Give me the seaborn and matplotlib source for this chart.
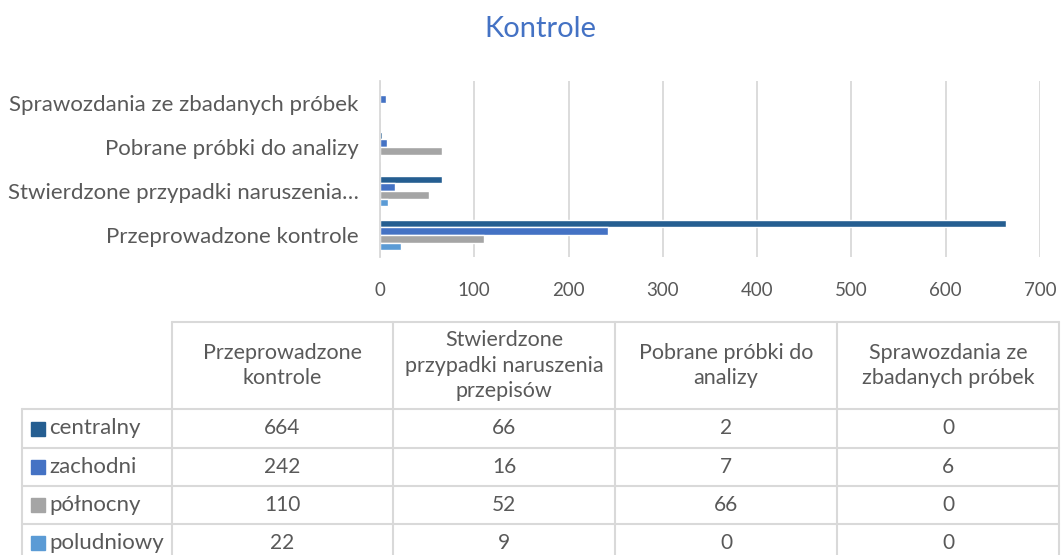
import matplotlib
matplotlib.use("Agg")
import matplotlib.pyplot as plt
import pandas as pd
import seaborn as sns

axis_labels = ["Przeprowadzone kontrole",
               "Stwierdzone przypadki naruszenia…",
               "Pobrane próbki do analizy",
               "Sprawozdania ze zbadanych próbek"]
header_labels = ["Przeprowadzone\nkontrole",
                 "Stwierdzone\nprzypadki naruszenia\nprzepisów",
                 "Pobrane próbki do\nanalizy",
                 "Sprawozdania ze\nzbadanych próbek"]
regions = ["centralny", "zachodni", "północny", "poludniowy"]
centralny = [664, 66, 2, 0]
zachodni = [242, 16, 7, 6]
polnocny = [110, 52, 66, 0]
poludniowy = [22, 9, 0, 0]
colors = ["#255E91", "#4472C4", "#A5A5A5", "#5B9BD5"]

series = [centralny, zachodni, polnocny, poludniowy]
rows = []
for reg, vals in zip(regions, series):
    for cat, v in zip(axis_labels, vals):
        rows.append({"kategoria": cat, "region": reg, "wartosc": v})
df = pd.DataFrame(rows)

sns.set_style("white")
plt.rcParams["font.family"] = ["Lato", "DejaVu Sans"]
text_col = "#595959"
grid_col = "#D9D9D9"

W, H = 1062, 555
fig = plt.figure(figsize=(W / 100, H / 100), dpi=100)

# table layer, pixel coordinates
tax = fig.add_axes([0, 0, 1, 1])
tax.set_xlim(0, W)
tax.set_ylim(H, 0)
tax.axis("off")

ax = fig.add_axes([380 / W, 1 - 257 / H, 660 / W, 176 / H])
sns.barplot(data=df, y="kategoria", x="wartosc", hue="region",
            order=axis_labels[::-1], hue_order=regions, palette=colors,
            orient="h", width=0.69, saturation=1, ax=ax, legend=False)
ax.set_xlim(0, 700)
ax.set_xticks(range(0, 701, 100))
ax.grid(axis="x", color=grid_col, linewidth=1.3)
ax.set_axisbelow(True)
for s in ["top", "right", "bottom"]:
    ax.spines[s].set_visible(False)
ax.spines["left"].set_color(grid_col)
ax.spines["left"].set_linewidth(1.3)
ax.set_xlabel("")
ax.set_ylabel("")
ax.tick_params(axis="x", length=0, pad=18, labelsize=13.5, labelcolor=text_col)
ax.tick_params(axis="y", length=0, pad=15.5, labelsize=16, labelcolor=text_col)

fig.text(540 / W, 1 - 29 / H, "Kontrole", ha="center", va="center",
         fontsize=21, color="#4472C4")

# data table
xs = [22, 171.5, 393, 615, 837, 1059]
ys = [322, 409, 448, 486, 524, 562]
lw = 1.5
tax.plot([xs[1], xs[-1]], [ys[0], ys[0]], color=grid_col, lw=lw)
for y in ys[1:]:
    tax.plot([xs[0], xs[-1]], [y, y], color=grid_col, lw=lw)
tax.plot([xs[0], xs[0]], [ys[1], ys[-1]], color=grid_col, lw=lw)
for x in xs[1:]:
    tax.plot([x, x], [ys[0], ys[-1]], color=grid_col, lw=lw)

for j, lab in enumerate(header_labels):
    tax.text((xs[j + 1] + xs[j + 2]) / 2, (ys[0] + ys[1]) / 2, lab,
             ha="center", va="center", fontsize=15.5, color=text_col,
             linespacing=1.32)

for i, (reg, vals, c) in enumerate(zip(regions, series, colors)):
    yc = (ys[i + 1] + ys[i + 2]) / 2
    tax.add_patch(plt.Rectangle((31, yc - 7), 14, 14, color=c))
    tax.text(49, yc, reg, ha="left", va="center", fontsize=16, color=text_col)
    for j, v in enumerate(vals):
        tax.text((xs[j + 1] + xs[j + 2]) / 2, yc, str(v), ha="center",
                 va="center", fontsize=15, color=text_col)

fig.savefig("out.png", dpi=100, facecolor="white")
